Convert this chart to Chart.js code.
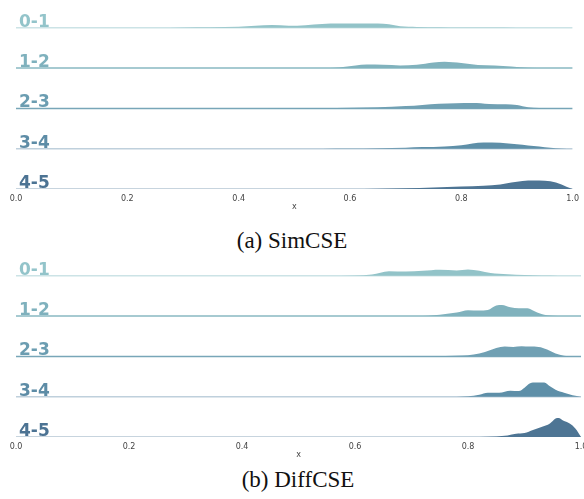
<!DOCTYPE html>
<html>
<head>
<meta charset="utf-8">
<script src="https://cdn.jsdelivr.net/npm/chart.js@4"></script>
<style>
  html, body { margin: 0; padding: 0; background: #fff; overflow: hidden; }
  body { width: 584px; height: 499px; position: relative; }
  canvas { position: absolute; left: 0; }
  .cap { position: absolute; width: 300px; text-align: center;
         font-family: "Liberation Serif", serif; font-size: 23px; line-height: 23px; color: #111; }
</style>
</head>
<body>
<canvas id="simcse" width="584" height="216" style="top:0"></canvas>
<div class="cap" style="top:229px; left:142px">(a) SimCSE</div>
<canvas id="diffcse" width="600" height="216" style="top:248px"></canvas>
<div class="cap" style="top:468px; left:148px">(b) DiffCSE</div>
<script>
const categories = ['0-1', '1-2', '2-3', '3-4', '4-5'];
const xTicks = [0, 0.2, 0.4, 0.6, 0.8, 1.0];

// similarity values (x) and density heights for each ridge
const simcseX = [
  [0.25, 0.30, 0.35, 0.40, 0.43, 0.46, 0.49, 0.52, 0.55, 0.58, 0.62, 0.65, 0.67, 0.69, 0.72, 0.76, 0.80, 0.85, 0.90, 1.0],
  [0.55, 0.58, 0.61, 0.63, 0.66, 0.69, 0.72, 0.75, 0.77, 0.80, 0.83, 0.86, 0.89, 0.92, 0.95],
  [0.45, 0.50, 0.55, 0.60, 0.65, 0.70, 0.73, 0.76, 0.79, 0.82, 0.85, 0.88, 0.90, 0.92, 0.94, 0.97, 1.0],
  [0.55, 0.60, 0.65, 0.70, 0.73, 0.77, 0.80, 0.82, 0.84, 0.87, 0.89, 0.91, 0.93, 0.95, 0.97, 0.99],
  [0.60, 0.65, 0.70, 0.75, 0.80, 0.84, 0.87, 0.89, 0.91, 0.93, 0.95, 0.97, 0.98, 0.99, 1.0]
];
const simcseDensity = [
  [0, 0.3, 0.5, 1.0, 2.0, 2.7, 2.0, 2.6, 3.8, 4.2, 4.2, 4.4, 3.5, 1.5, 0.8, 0.6, 0.3, 0.2, 0.1, 0],
  [0, 0.7, 2.5, 3.5, 3.3, 2.7, 3.3, 5.5, 6.3, 5.0, 3.0, 2.5, 1.5, 0.3, 0],
  [0, 0.2, 0.3, 0.7, 1.2, 2.3, 3.5, 4.6, 5.2, 5.4, 4.5, 4.2, 3.5, 1.2, 0.4, 0.2, 0],
  [0, 0.2, 0.5, 1.0, 1.6, 2.3, 3.5, 5.3, 6.3, 6.0, 5.0, 4.0, 2.7, 1.5, 0.5, 0],
  [0, 0.3, 0.8, 1.5, 2.5, 3.2, 4.5, 6.5, 8.0, 8.5, 8.3, 6.5, 4.5, 2.0, 0]
];
const diffcseX = [
  [0.50, 0.55, 0.60, 0.63, 0.66, 0.69, 0.72, 0.75, 0.78, 0.80, 0.82, 0.84, 0.87, 0.90, 0.93, 0.96],
  [0.72, 0.74, 0.76, 0.78, 0.80, 0.82, 0.835, 0.85, 0.86, 0.875, 0.89, 0.905, 0.915, 0.93, 0.95, 0.97],
  [0.68, 0.72, 0.76, 0.79, 0.81, 0.83, 0.85, 0.865, 0.88, 0.895, 0.91, 0.925, 0.94, 0.955, 0.97, 0.985],
  [0.76, 0.80, 0.82, 0.835, 0.855, 0.875, 0.89, 0.90, 0.91, 0.92, 0.935, 0.945, 0.955, 0.97, 0.985, 1.0],
  [0.82, 0.85, 0.87, 0.885, 0.90, 0.915, 0.93, 0.945, 0.955, 0.96, 0.97, 0.98, 0.99, 1.0]
];
const diffcseDensity = [
  [0, 0.1, 0.3, 1.2, 4.5, 4.2, 5.0, 6.0, 5.3, 6.2, 5.0, 2.7, 1.5, 0.8, 0.2, 0],
  [0, 0.8, 2.2, 3.5, 5.8, 5.5, 6.0, 10.5, 11.0, 8.8, 7.8, 7.8, 5.5, 2.0, 0.3, 0],
  [0, 0.2, 0.5, 1.0, 2.0, 4.5, 8.5, 10.0, 9.5, 10.2, 9.8, 9.5, 7.0, 3.0, 0.7, 0],
  [0, 0.5, 2.0, 4.0, 4.0, 6.0, 5.7, 9.0, 13.5, 14.3, 14.3, 10.5, 7.0, 4.0, 1.5, 0],
  [0, 0.5, 1.5, 3.2, 4.0, 7.0, 10.0, 13.5, 18.5, 19.0, 16.0, 13.5, 8.5, 0]
];

const fillColors = ['#92c3c8', '#80b2bd', '#70a0b3', '#5e8fa8', '#4e7594'];
const labelColors = ['#93c4ca', '#7fb1bd', '#6b9db1', '#5d8ca6', '#4c7393'];
const lineColors = ['#cce3e6', '#88b8c2', '#78a6b8', '#bfd0dc', '#b5c6d3'];
const densityScale = 1 / 40.4;   // density height relative to the gap between ridges

const ridgeLabels = {
  id: 'ridgeLabels',
  afterDatasetsDraw(chart) {
    const {ctx, chartArea, scales} = chart;
    ctx.save();
    ctx.font = 'bold 17px "DejaVu Sans"';
    ctx.textBaseline = 'alphabetic';
    ctx.textAlign = 'left';
    categories.forEach((c, i) => {
      const off = categories.length - 1 - i;
      ctx.fillStyle = labelColors[i];
      ctx.fillText(c, chartArea.left + 3, scales.y.getPixelForValue(off) - 1);
    });
    ctx.restore();
  }
};

function makeRidge(id, xs, dens, padRight) {
  const datasets = [];
  categories.forEach((c, i) => {
    const off = categories.length - 1 - i;
    datasets.push({
      label: c,
      data: xs[i].map((x, j) => ({x: x, y: off + dens[i][j] * densityScale})),
      fill: {value: off},
      backgroundColor: fillColors[i],
      borderWidth: 0,
      pointRadius: 0,
      cubicInterpolationMode: 'monotone',
      order: 1
    });
    datasets.push({
      label: c + ' base',
      data: [{x: 0, y: off}, {x: 1, y: off}],
      fill: false,
      borderColor: lineColors[i],
      borderWidth: 1.5,
      pointRadius: 0,
      order: 2
    });
  });

  return new Chart(document.getElementById(id), {
    type: 'line',
    data: {datasets: datasets},
    options: {
      responsive: false,
      animation: false,
      devicePixelRatio: 1,
      layout: {padding: {left: 16, right: padRight, top: 4, bottom: 0}},
      plugins: {legend: {display: false}, tooltip: {enabled: false}},
      scales: {
        x: {
          type: 'linear',
          min: 0, max: 1,
          grid: {display: false, drawTicks: false},
          border: {display: false},
          afterBuildTicks: s => { s.ticks = xTicks.map(v => ({value: v})); },
          afterFit: s => { s.height = 27; },
          ticks: {
            padding: 5,
            maxRotation: 0,
            color: '#444',
            font: {family: 'DejaVu Sans', size: 8},
            callback: v => Number(v).toFixed(1)
          },
          title: {
            display: true, text: 'x', color: '#444',
            font: {family: 'DejaVu Sans', size: 8},
            padding: {top: 0, bottom: 4}
          }
        },
        y: {
          type: 'linear',
          min: 0, max: 4.59,
          display: false
        }
      }
    },
    plugins: [ridgeLabels]
  });
}

makeRidge('simcse', simcseX, simcseDensity, 11);
makeRidge('diffcse', diffcseX, diffcseDensity, 19);
</script>
</body>
</html>
